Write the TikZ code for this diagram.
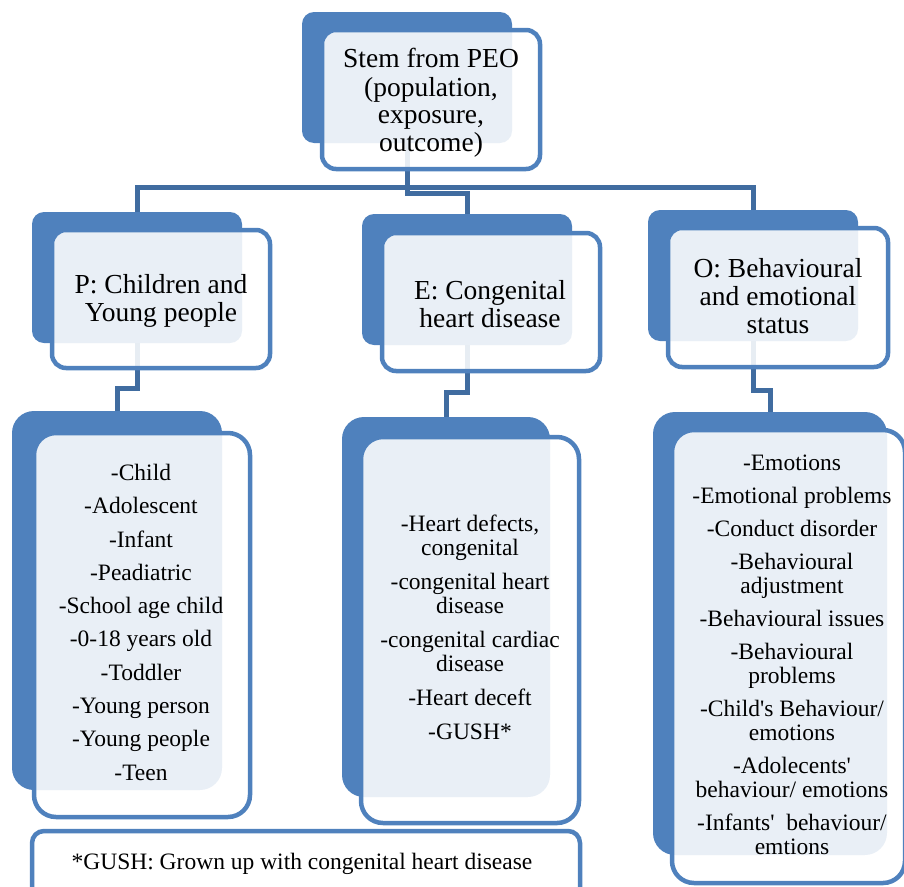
\documentclass[tikz,border=0pt]{standalone}
\usepackage{fontspec}
\setmainfont{Liberation Serif}
\definecolor{peoblue}{RGB}{79,129,189}
\definecolor{linkblue}{RGB}{64,108,160}
\tikzset{
  backbox/.style={fill=peoblue, inner sep=0pt, rounded corners=#1},
  backbox/.default=12pt,
  frontbox/.style={draw=peoblue, line width=4.5pt, fill=white, fill opacity=0.88,
    draw opacity=1, inner sep=0pt, rounded corners=#1},
  frontbox/.default=14pt,
  link/.style={draw=linkblue, line width=5pt},
  headtxt/.style={align=center, inner sep=0pt, font=\fontsize{27.5}{28}\selectfont},
  toptxt/.style={align=center, inner sep=0pt, font=\fontsize{27.5}{27}\selectfont},
  listtxt/.style={align=center, inner sep=0pt, font=\fontsize{23.5}{24}\selectfont},
}
\begin{document}
\begin{tikzpicture}[x=1pt,y=-1pt]
\useasboundingbox (0,0) rectangle (904,886);
\clip (0,0) rectangle (904,886);

% levels of the elbow connectors
\coordinate (busMain) at (0,187);
\coordinate (busMid)  at (0,193);
\coordinate (stepP)   at (0,388);
\coordinate (stepE)   at (0,392);
\coordinate (stepO)   at (0,390);

% solid back plates
\node[backbox, minimum width=210pt, minimum height=131pt] (topB) at (407,77.5) {};
\node[backbox, minimum width=210pt, minimum height=131pt] (pB) at (137,277.5) {};
\node[backbox, minimum width=210pt, minimum height=131pt] (eB) at (467,279.5) {};
\node[backbox, minimum width=210pt, minimum height=131pt] (oB) at (753,275.5) {};
\node[backbox=22pt, minimum width=210pt, minimum height=379pt] (pLB) at (117,600.5) {};
\node[backbox=22pt, minimum width=208pt, minimum height=380pt] (eLB) at (446,607) {};
\node[backbox=22pt, minimum width=234pt, minimum height=443pt] (oLB) at (770,633.5) {};

% connectors
\draw[link] (topB.south) -- (topB.south |- busMain) -| (pB.north);
\draw[link] (topB.south) -- (topB.south |- busMain) -| (oB.north);
\draw[link] (topB.south) -- (topB.south |- busMid) -| (eB.north);
\draw[link] (pB.south) -- (pB.south |- stepP) -| (pLB.north);
\draw[link] (eB.south) -- (eB.south |- stepE) -| (eLB.north);
\draw[link] (oB.south) -- (oB.south |- stepO) -| (oLB.north);

% outlined front cards
\node[frontbox, minimum width=218pt, minimum height=139pt] (topF) at (431,99.5) {};
\node[frontbox, minimum width=218pt, minimum height=138pt] (pF) at (161,299) {};
\node[frontbox, minimum width=218pt, minimum height=138pt] (eF) at (491,302) {};
\node[frontbox, minimum width=220pt, minimum height=139pt] (oF) at (778,297.5) {};
\node[frontbox=22pt, minimum width=216pt, minimum height=384pt] (pLF) at (142,625) {};
\node[frontbox=22pt, minimum width=218pt, minimum height=386pt] (eLF) at (470,630) {};
\node[frontbox=22pt, minimum width=233pt, minimum height=453pt] (oLF) at (788.5,656.5) {};
\node[frontbox=12pt, minimum width=548pt, minimum height=74pt] (noteF) at (306,868) {};

% texts
\node[toptxt] (topT) at (431,104) {\strut Stem from PEO\\\strut (population,\\\strut exposure,\\\strut outcome)};
\node[headtxt] (pT) at (161,301.4) {\strut P: Children and\\\strut Young people};
\node[headtxt] (eT) at (490,307.4) {\strut E: Congenital\\\strut heart disease};
\node[headtxt] (oT) at (778,299.4) {\strut O: Behavioural\\\strut and emotional\\\strut status};

\node[listtxt] (pL) at (141,625.5) {\strut -Child\\[9.3pt]\strut -Adolescent\\[9.3pt]\strut -Infant\\[9.3pt]%
\strut -Peadiatric\\[9.3pt]\strut -School age child\\[9.3pt]\strut -0-18 years old\\[9.3pt]%
\strut -Toddler\\[9.3pt]\strut -Young person\\[9.3pt]\strut -Young people\\[9.3pt]\strut -Teen};

\node[listtxt] (eL) at (470,631) {\strut -Heart defects,\\\strut congenital\\[10pt]%
\strut -congenital heart\\\strut disease\\[10pt]\strut -congenital cardiac\\\strut disease\\[10pt]%
\strut -Heart deceft\\[10pt]\strut -GUSH*};

\node[listtxt] (oL) at (792,658) {\strut -Emotions\\[9pt]\strut -Emotional problems\\[9pt]%
\strut -Conduct disorder\\[9pt]\strut -Behavioural\\\strut adjustment\\[9pt]%
\strut -Behavioural issues\\[9pt]\strut -Behavioural\\\strut problems\\[9pt]%
\strut -Child\textquotesingle s Behaviour/\\\strut emotions\\[9pt]%
\strut -Adolecents\textquotesingle\\\strut behaviour/ emotions\\[9pt]%
\strut -Infants\textquotesingle\ \ behaviour/\\\strut emtions};

\node[listtxt] (noteT) at (302,865) {\strut *GUSH: Grown up with congenital heart disease};
\end{tikzpicture}
\end{document}
